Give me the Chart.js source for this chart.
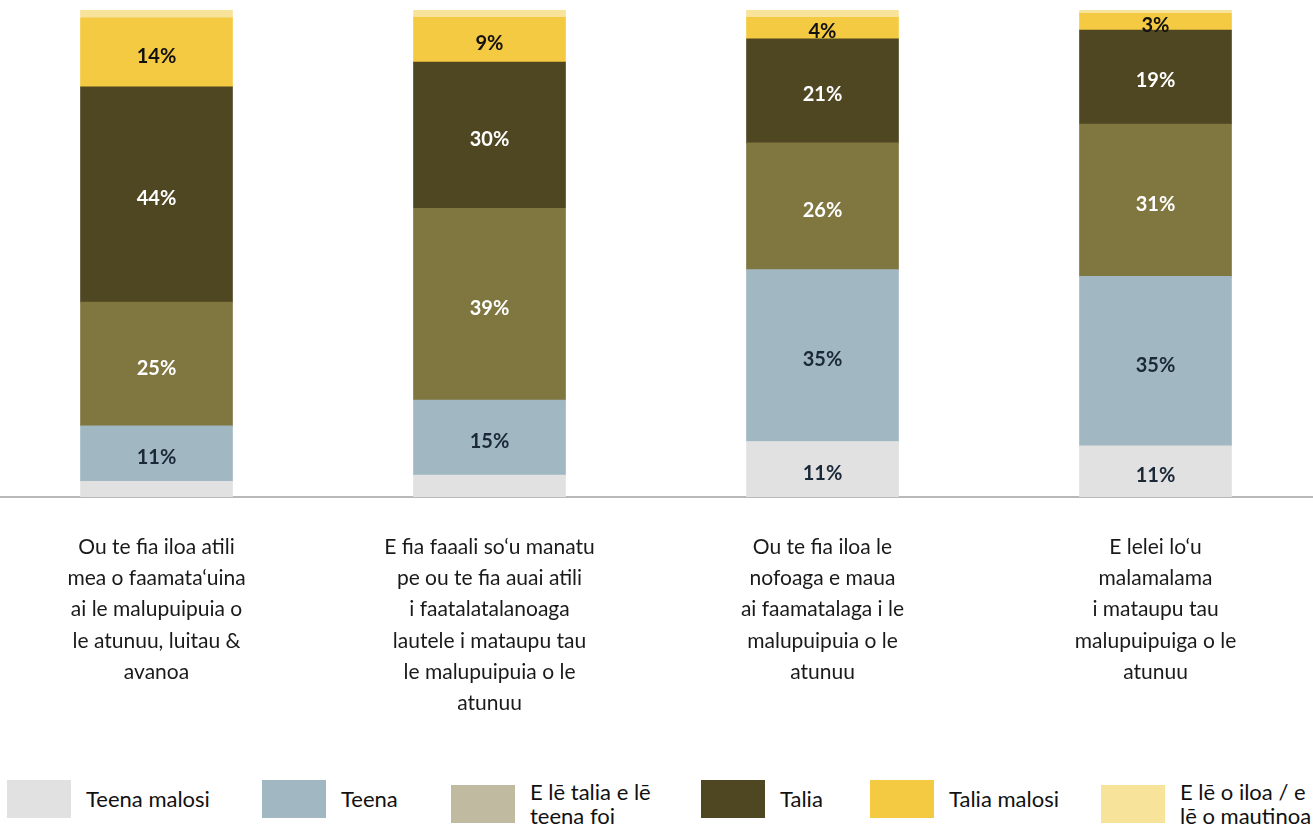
<!DOCTYPE html>
<html>
<head>
<meta charset="utf-8">
<script src="https://cdn.jsdelivr.net/npm/chart.js@4"></script>
<style>
  body { margin: 0; background: #fff; font-family: Lato, sans-serif; }
  #wrap { position: relative; width: 1313px; height: 825px; overflow: hidden; }
  #myChart { position: absolute; left: -10px; top: 0; }
  .lg-item { position: absolute; top: 780px; display: flex; align-items: center; }
  .lg-box { width: 64px; height: 38px; flex: none; }
  .lg-text { margin-left: 15px; font-size: 22px; line-height: 24px; color: #111; white-space: nowrap; }
</style>
</head>
<body>
<div id="wrap">
  <canvas id="myChart" width="1332" height="770"></canvas>
  <div id="legend"></div>
</div>
<script>
// categories (each one split in lines like the picture)
var categories = [
  ['Ou te fia iloa atili', 'mea o faamata\u2018uina', 'ai le malupuipuia o', 'le atunuu, luitau &', 'avanoa'],
  ['E fia faaali so\u2018u manatu', 'pe ou te fia auai atili', 'i faatalatalanoaga', 'lautele i mataupu tau', 'le malupuipuia o le', 'atunuu'],
  ['Ou te fia iloa le', 'nofoaga e maua', 'ai faamatalaga i le', 'malupuipuia o le', 'atunuu'],
  ['E lelei lo\u2018u', 'malamalama', 'i mataupu tau', 'malupuipuiga o le', 'atunuu']
];

var seriesNames = ['Teena malosi', 'Teena', 'E l\u0113 talia e l\u0113 teena foi', 'Talia', 'Talia malosi', 'E l\u0113 o iloa / e l\u0113 o mautinoa'];
// legend text broken the same way as the picture
var legendLines = [['Teena malosi'], ['Teena'], ['E l\u0113 talia e l\u0113', 'teena foi'], ['Talia'], ['Talia malosi'], ['E l\u0113 o iloa / e', 'l\u0113 o mautinoa']];

// percentages
var teenaMalosi = [3.2, 4.5, 11.4, 10.5];
var teena       = [11.4, 15.4, 35.3, 34.8];
var neutral     = [25.4, 39.4, 26.0, 31.3];
var talia       = [44.2, 30.0, 21.4, 19.3];
var taliaMalosi = [14.2, 9.2, 4.4, 3.4];
var dontKnow    = [1.6, 1.5, 1.5, 0.7];

var seriesValues = [teenaMalosi, teena, neutral, talia, taliaMalosi, dontKnow];

var barColors    = ['#e1e1e1', '#a1b8c2', '#7f7640', '#4f4622', '#f4ca42', '#f8e39a'];
var legendColors = ['#e1e1e1', '#a1b8c2', '#c0bba0', '#4f4622', '#f4ca42', '#f8e39a'];
var labelColors  = ['#1b2838', '#1b2838', '#ffffff', '#ffffff', '#111111', '#111111'];
var labelMin     = [10, 0, 0, 0, 0, 1000]; // hide small ones like the picture

// draws the % text in the middle of each piece
var segmentLabels = {
  id: 'segmentLabels',
  afterDatasetsDraw: function(chart) {
    var ctx = chart.ctx;
    ctx.save();
    ctx.font = 'bold 20px Lato, sans-serif';
    ctx.textAlign = 'center';
    ctx.textBaseline = 'middle';
    chart.data.datasets.forEach(function(ds, i) {
      var meta = chart.getDatasetMeta(i);
      meta.data.forEach(function(bar, j) {
        var v = ds.data[j];
        if (v < labelMin[i]) return;
        ctx.fillStyle = labelColors[i];
        ctx.fillText(Math.round(v) + '%', bar.x, (bar.y + bar.base) / 2 + 4);
      });
    });
    ctx.restore();
  }
};

var ctx = document.getElementById('myChart').getContext('2d');

var myChart = new Chart(ctx, {
  type: 'bar',
  data: {
    labels: categories,
    datasets: seriesValues.map(function(vals, i) {
      return {
        label: seriesNames[i],
        data: vals,
        backgroundColor: barColors[i],
        borderWidth: 0,
        barThickness: 152
      };
    })
  },
  options: {
    responsive: false,
    animation: false,
    layout: { padding: { top: 10, left: 0, right: 0, bottom: 0 } },
    scales: {
      x: {
        stacked: true,
        grid: { display: false, drawTicks: false },
        border: { display: true, color: '#b8b8b8', width: 2 },
        ticks: {
          autoSkip: false,
          maxRotation: 0,
          minRotation: 0,
          padding: 35,
          color: '#1a1a1a',
          font: { family: 'Lato, sans-serif', size: 21, lineHeight: 1.48 }
        },
        afterFit: function(scale) { scale.height = 273; }
      },
      y: {
        stacked: true,
        display: false,
        min: 0,
        max: 100
      }
    },
    plugins: {
      legend: { display: false },
      tooltip: { enabled: false }
    }
  },
  plugins: [segmentLabels]
});

// legend built by hand
var legendX = [7, 262, 451, 701, 870, 1101];
var legendEl = document.getElementById('legend');
legendLines.forEach(function(lines, i) {
  var item = document.createElement('div');
  item.className = 'lg-item';
  item.style.left = legendX[i] + 'px';
  var box = document.createElement('div');
  box.className = 'lg-box';
  box.style.background = legendColors[i];
  var txt = document.createElement('div');
  txt.className = 'lg-text';
  lines.forEach(function(l, k) {
    if (k > 0) txt.appendChild(document.createElement('br'));
    txt.appendChild(document.createTextNode(l));
  });
  item.appendChild(box);
  item.appendChild(txt);
  legendEl.appendChild(item);
});
</script>
</body>
</html>
